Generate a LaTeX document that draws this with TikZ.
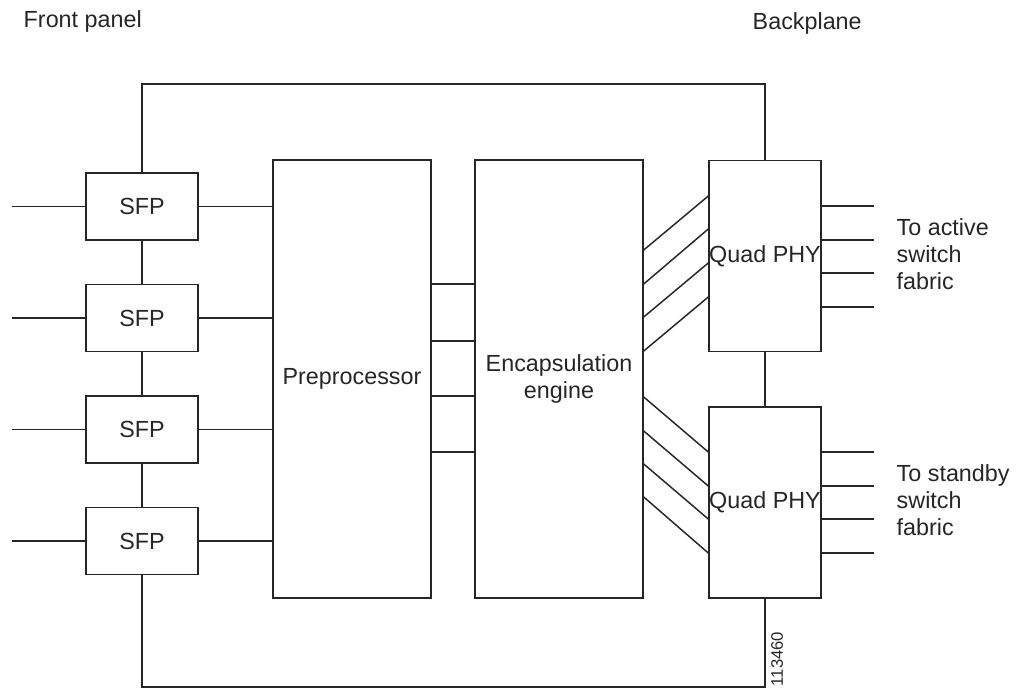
\documentclass[tikz,border=0pt]{standalone}
\usepackage{fontspec}
\setmainfont{Liberation Sans}
\begin{document}
\begin{tikzpicture}[
        x=0.75pt, y=-0.75pt,
        line width=1.1pt,
        color=black!85,
        every node/.style={font=\fontsize{17.5}{20}\selectfont},
        box/.style={draw, rectangle, inner sep=0pt, align=center},
        sfp/.style={box, minimum width=84pt, minimum height=50.25pt},
        block/.style={box, minimum height=328.5pt},
        phy/.style={box, minimum width=84pt, minimum height=143.5pt},
        caption/.style={inner sep=0pt, align=left, anchor=west},
    ]
    \useasboundingbox (0,0) rectangle (1016,690);

    \node[block, minimum width=118.5pt](pre) at (352,379){Preprocessor};
    \node[block, minimum width=126pt](enc) at (559,379){Encapsulation\\engine};
    \node[phy](phyA) at (765,256){Quad PHY};
    \node[phy](phyB) at (765,502.5){Quad PHY};

    \foreach \i/\y in {1/206.5,2/318,3/429.5,4/541} {
        \node[sfp](sfp\i) at (142,\y){SFP};
        \draw (sfp\i.west) -- ++(-73,0);
        \draw (sfp\i.east) -- (sfp\i.east -| pre.west);
    }
    \foreach \i/\j in {1/2,2/3,3/4}
        \draw (sfp\i.south) -- (sfp\j.north);

    \foreach \y in {284,341,396,452}
        \draw (pre.east |- 0,\y) -- (enc.west |- 0,\y);

    % links to the two PHYs
    \foreach \a/\b in {250/196,284/229,317/263,351/297}
        \draw (enc.east |- 0,\a) -- (phyA.west |- 0,\b);
    \foreach \a/\b in {397/452,431/486,464/519,497/553}
        \draw (enc.east |- 0,\a) -- (phyB.west |- 0,\b);

    \foreach \y in {206,240,273,307}
        \draw (phyA.east |- 0,\y) -- ++(52,0);
    \foreach \y in {452,486,519,553}
        \draw (phyB.east |- 0,\y) -- ++(52,0);
    \draw (phyA.south) -- (phyB.north);

    % chassis outline
    \coordinate (top) at (0,84);
    \coordinate (bot) at (0,687);
    \draw (sfp1.north) |- (phyA.north |- top) -- (phyA.north);
    \draw (sfp4.south) |- (phyB.south |- bot) -- (phyB.south);

    \node[caption, anchor=base west](front) at (23,27){Front panel};
    \node[caption, anchor=base west](back) at (752,29){Backplane};
    \node[caption](active) at (896,254){To active\\switch\\fabric};
    \node[caption](standby) at (896,500){To standby\\switch\\fabric};
    \node[inner sep=0pt, rotate=90, font=\fontsize{12.5}{13}\selectfont](fig) at (777,659){113460};
\end{tikzpicture}
\end{document}
